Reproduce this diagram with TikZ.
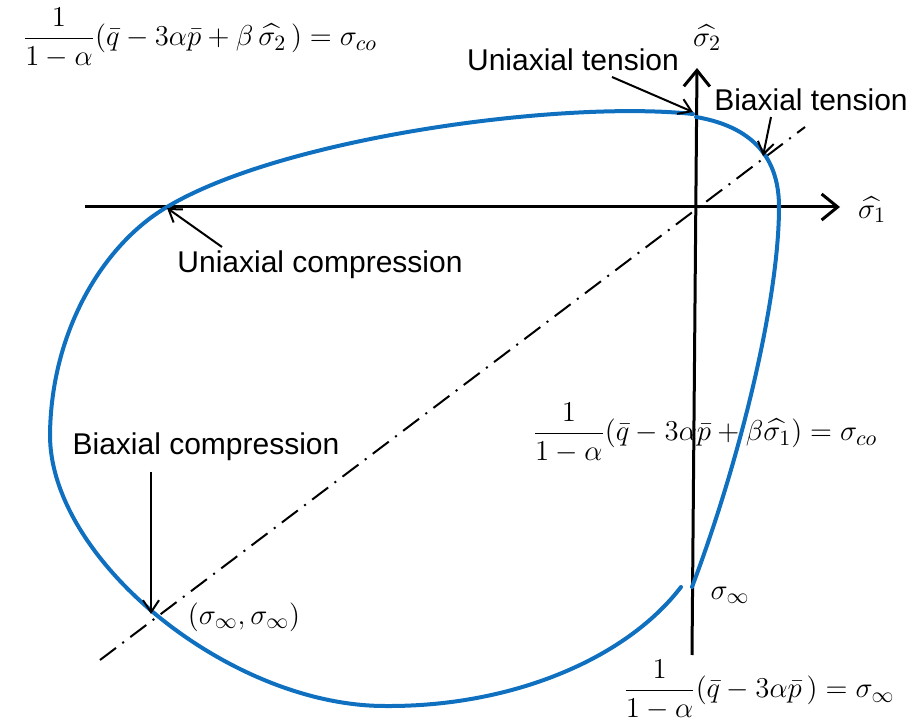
\documentclass[tikz,border=0pt]{standalone}
\usepackage{amsmath}
\usepackage{amssymb}
\usepackage{fontspec}
\setmainfont{Liberation Sans}
\usepackage{tikz}
\usetikzlibrary{arrows.meta,positioning,calc}
\definecolor{yieldblue}{HTML}{1070C0}
\tikzset{
  axisline/.style={line width=1.5pt, -{Straight Barb[length=8pt,width=13pt,line width=1.5pt]}},
  yieldline/.style={line width=2pt, draw=yieldblue, line cap=round},
  diagline/.style={line width=1pt, dash pattern=on 10pt off 4pt on 1pt off 4pt},
  pointer/.style={line width=1pt, -{Straight Barb[length=6pt,width=8pt]}},
  lbl/.style={font=\fontsize{15}{18}\selectfont, inner sep=0pt},
  eqn/.style={font=\fontsize{15}{18}\selectfont, inner sep=0pt}
}

\begin{document}
\begin{tikzpicture}[x=0.5pt, y=-0.5pt]
  \useasboundingbox (0,0) rectangle (917,727);
  \coordinate (xl) at (85,207);
  \coordinate (xr) at (840,207);
  \coordinate (yb) at (692,655);
  \coordinate (yt) at (697,68);
  \coordinate (dl) at (100,660);
  \coordinate (dr) at (805,127);
  \coordinate (utp) at (693,112);
  \coordinate (btp) at (763,156);
  \coordinate (ucp) at (167,208);
  \coordinate (bcp) at (151,614);
  \coordinate (utt) at (612,77);
  \coordinate (btt) at (771,117);
  \coordinate (uct) at (222,247);
  \coordinate (bct) at (151,472);

  \node[eqn] (eqtop) at (200,38) {$\dfrac{1}{1-\alpha}(\bar q-3\alpha\bar p+\beta\,\widehat{\sigma_2}\,)=\sigma_{co}$};
  \node[eqn] (eqright) at (705,433) {$\dfrac{1}{1-\alpha}(\bar q-3\alpha\bar p+\beta\widehat{\sigma_1})=\sigma_{co}$};
  \node[eqn] (eqbot) at (759,690) {$\dfrac{1}{1-\alpha}(\bar q-3\alpha\bar p\,)=\sigma_\infty$};
  \node[eqn] (sig1) at (872,210) {$\widehat{\sigma_1}$};
  \node[eqn] (sig2) at (707,38) {$\widehat{\sigma_2}$};
  \node[eqn] (sinf) at (730,595) {$\sigma_\infty$};
  \node[eqn] (pinf) at (244,617) {$(\sigma_\infty,\sigma_\infty)$};
  \node[lbl] (ut) at (573,60) {Uniaxial tension};
  \node[lbl] (bt) at (811,100) {Biaxial tension};
  \node[lbl] (uc) at (320,265) {Uniaxial compression};
  \node[lbl] (bc) at (206,447) {Biaxial compression};

  \draw[diagline] (dl) -- (dr);
  \draw[axisline] (xl) -- (xr);
  \draw[axisline] (yb) -- (yt);

  \draw[yieldline] (693,114) .. controls (560,100) and (282,138) .. (167,207)
    .. controls (104,244) and (51,330) .. (50,435)
    .. controls (50,560) and (230,706) .. (385,706)
    .. controls (510,707) and (625,660) .. (681,587);
  \draw[yieldline] (692,587) .. controls (740,460) and (779,300) .. (779,207)
    .. controls (779,165) and (760,128) .. (696,117);

  \draw[pointer] (utt) -- (utp);
  \draw[pointer] (btt) -- (btp);
  \draw[pointer] (uct) -- (ucp);
  \draw[pointer] (bct) -- (bcp);
\end{tikzpicture}
\end{document}
